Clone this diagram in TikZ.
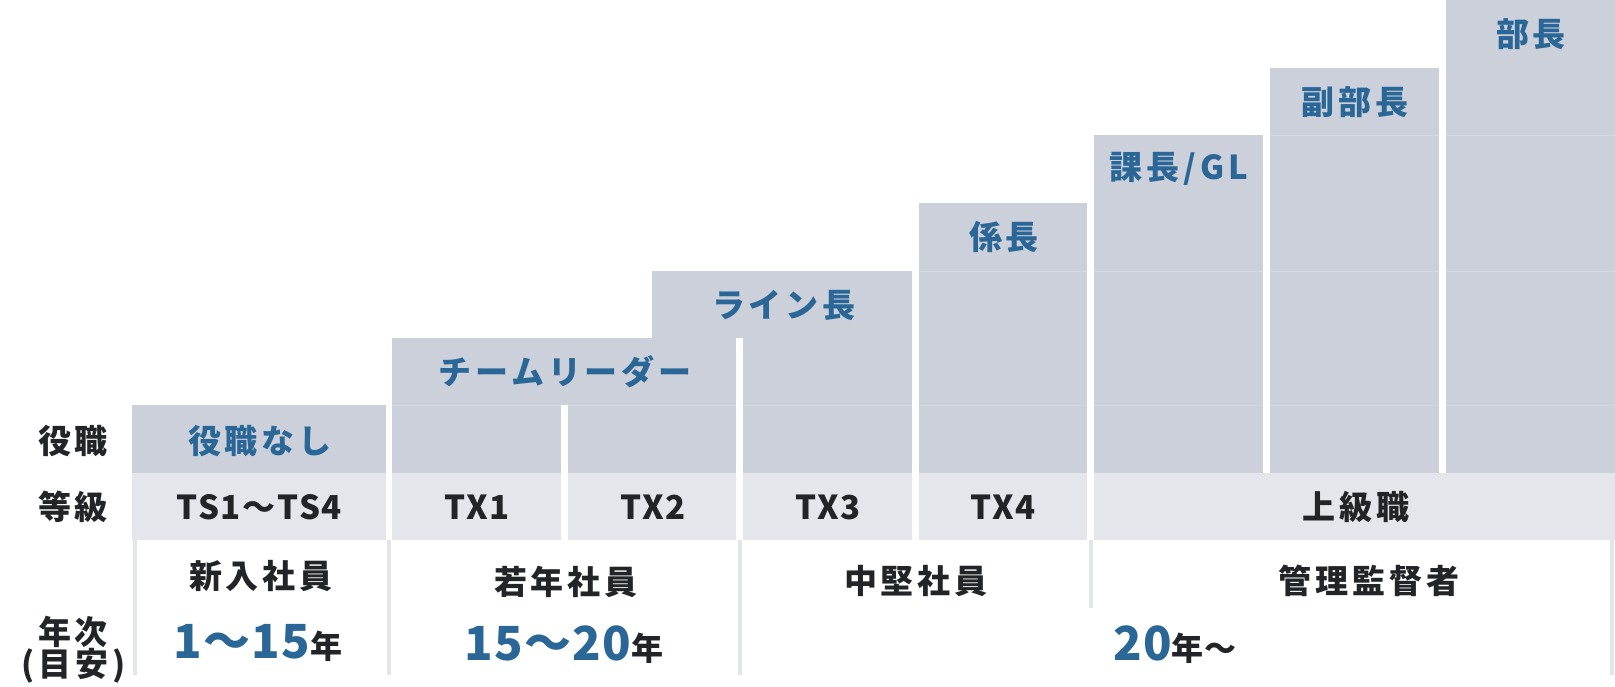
\documentclass[tikz,border=0pt]{standalone}
\usepackage{fontspec}
\newfontfamily\jp{Noto Sans CJK JP}[LetterSpace=12]
\newfontfamily\jpl{Noto Sans CJK JP}[LetterSpace=5]
\newfontfamily\jpn{Noto Sans CJK JP}[LetterSpace=3]
\definecolor{cellA}{HTML}{CCD0DB}
\definecolor{cellB}{HTML}{E5E6EC}
\definecolor{sepc}{HTML}{E4E5EB}
\definecolor{faintc}{HTML}{D7DAE3}
\definecolor{blu}{HTML}{2A6796}
\definecolor{inkc}{HTML}{222428}
\tikzset{
  rolecell/.style={fill=cellA},
  gradecell/.style={fill=cellB},
  faintline/.style={draw=faintc, line width=1pt},
  sepline/.style={draw=sepc, line width=3.5pt},
  rolelabel/.style={font=\jp\bfseries\fontsize{33}{33}\selectfont, text=blu, inner sep=0pt},
  darklabel/.style={font=\jp\bfseries\fontsize{33}{33}\selectfont, text=inkc, inner sep=0pt},
  latinlabel/.style={font=\jpl\bfseries\fontsize{33}{33}\selectfont, text=inkc, inner sep=0pt},
  yearlabel/.style={font=\jpn\bfseries, text=inkc, inner sep=0pt},
}
\newcommand{\bignum}[1]{{\fontsize{47}{47}\selectfont\color{blu}#1}}
\newcommand{\smallnen}[1]{{\fontsize{32}{32}\selectfont #1}}
\begin{document}
\begin{tikzpicture}[x=1pt,y=-1pt]
\useasboundingbox (0,0) rectangle (1615,686);
% role cells
\fill[rolecell] (132,405) rectangle (386,473);
\fill[rolecell] (392,338) rectangle (736,405);
\fill[rolecell] (392,405) rectangle (561,473);
\fill[rolecell] (568,405) rectangle (736,473);
\fill[rolecell] (652,271) rectangle (912,338);
\fill[rolecell] (743,338) rectangle (912,473);
\fill[rolecell] (919,203) rectangle (1087,473);
\fill[rolecell] (1094,135) rectangle (1263,473);
\fill[rolecell] (1270,68) rectangle (1439,473);
\fill[rolecell] (1446,0) rectangle (1615,473);
% grade cells
\fill[gradecell] (132,473) rectangle (386,540);
\fill[gradecell] (392,473) rectangle (561,540);
\fill[gradecell] (568,473) rectangle (736,540);
\fill[gradecell] (743,473) rectangle (912,540);
\fill[gradecell] (919,473) rectangle (1087,540);
\fill[gradecell] (1094,473) rectangle (1615,540);
% faint row lines
\foreach \a/\b in {392/561,568/736,743/912,919/1087,1094/1263,1270/1439,1446/1615}
  \draw[faintline] (\a,405) -- (\b,405);
\foreach \a/\b in {919/1087,1094/1263,1270/1439,1446/1615}
  \draw[faintline] (\a,271) -- (\b,271);
\foreach \a/\b in {1270/1439,1446/1615}
  \draw[faintline] (\a,135) -- (\b,135);
% separators in lower section
\draw[sepline] (135,540) -- (135,675);
\draw[sepline] (389,540) -- (389,675);
\draw[sepline] (740,540) -- (740,675);
\draw[sepline] (1091,540) -- (1091,608);
\draw[sepline] (1612,540) -- (1612,675);
% left headings
\node[darklabel] (hYaku) at (73,441) {役職};
\node[darklabel] (hTokyu) at (73,507) {等級};
\node[darklabel] (hNen) at (73,632) {年次};
\node[darklabel] (hMeyasu) at (74,666) {(目安)};
% role labels
\node[rolelabel] (rNone) at (260,441) {役職なし};
\node[rolelabel] (rTeam) at (565,372) {チームリーダー};
\node[rolelabel] (rLine) at (784,305) {ライン長};
\node[rolelabel] (rKakari) at (1004,237) {係長};
\node[rolelabel] (rKacho) at (1179,169) {課長/GL};
\node[rolelabel] (rFuku) at (1355,102) {副部長};
\node[rolelabel] (rBucho) at (1531,34) {部長};
% grade labels
\node[latinlabel] (gTS) at (259,507) {TS1〜TS4};
\node[latinlabel] (gTX1) at (477,507) {TX1};
\node[latinlabel] (gTX2) at (653,507) {TX2};
\node[latinlabel] (gTX3) at (828,507) {TX3};
\node[latinlabel] (gTX4) at (1003,507) {TX4};
\node[darklabel] (gJo) at (1356,507) {上級職};
% career stage labels
\node[darklabel] (cNew) at (261,576) {新入社員};
\node[darklabel] (cYoung) at (566,582) {若年社員};
\node[darklabel] (cMid) at (916,581) {中堅社員};
\node[darklabel] (cMgr) at (1369,581) {管理監督者};
% years
\node[yearlabel] (y1) at (258,643) {\bignum{1〜15}\smallnen{年}};
\node[yearlabel] (y2) at (564,645) {\bignum{15〜20}\smallnen{年}};
\node[yearlabel, anchor=west] (y3) at (1113,645) {\bignum{20}\smallnen{年〜}};
\end{tikzpicture}
\end{document}
